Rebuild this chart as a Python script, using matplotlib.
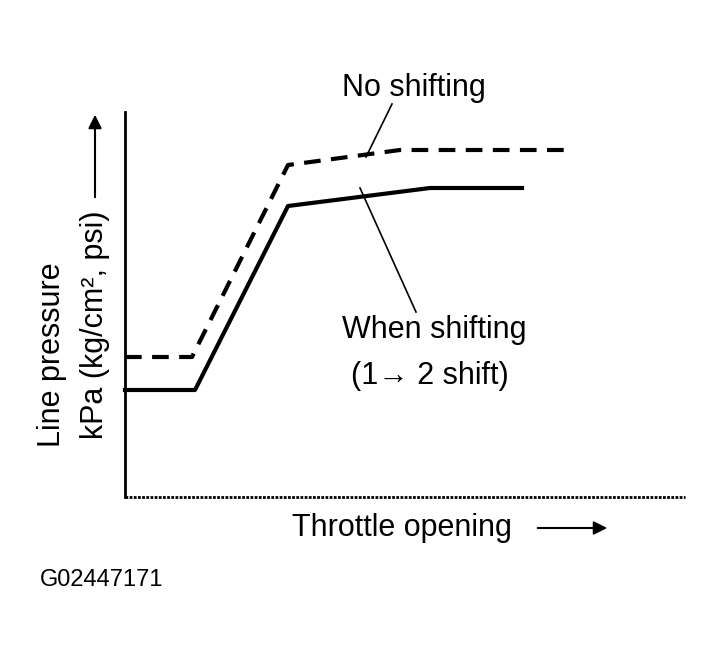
import matplotlib
matplotlib.use("Agg")
import matplotlib.pyplot as plt

# Data (in the reference's drawing units: x to the right, y downward)
solid_x = [125, 195, 288, 430, 522]
solid_y = [390, 390, 206, 188, 188]
dash_x = [125, 192, 288, 400, 565]
dash_y = [357, 357, 165, 150, 150]

plt.rcParams['font.family'] = ['Liberation Sans', 'DejaVu Sans']
fig = plt.figure(figsize=(7.24, 6.63), dpi=100)
ax = fig.add_axes([0, 0, 1, 1])
ax.set_xlim(0, 724)
ax.set_ylim(663, 0)
ax.axis('off')

# axes frame
ax.plot([125, 125], [497, 112], color='black', lw=2)
ax.plot([125, 685], [497, 497], color='black', lw=2, linestyle=(0, (1, 0.5)))
ax.annotate('', xy=(95, 112), xytext=(95, 200),
            arrowprops=dict(arrowstyle='-|>', color='black', lw=1.5, mutation_scale=20))

ax.plot(solid_x, solid_y, color='black', lw=3)
ax.plot(dash_x, dash_y, color='black', lw=3, dashes=(4, 2.5))

fs = 22
ax.text(414, 88, 'No shifting', fontsize=fs, ha='center', va='center')
ax.plot([366, 392], [157, 104], color='black', lw=1.2)
ax.text(434, 330, 'When shifting', fontsize=fs, ha='center', va='center')
ax.text(430, 376, '(1\u2192 2 shift)', fontsize=fs, ha='center', va='center',
        family=['Liberation Sans', 'DejaVu Sans'])
ax.plot([360, 416], [188, 312], color='black', lw=1.2)

ax.text(52, 355, 'Line pressure', fontsize=fs, rotation=90, ha='center', va='center')
ax.text(95, 325, 'kPa (kg/cm\u00b2, psi)', fontsize=fs, rotation=90,
        ha='center', va='center')
ax.text(402, 528, 'Throttle opening', fontsize=fs, ha='center', va='center')
ax.annotate('', xy=(610, 528), xytext=(535, 528),
            arrowprops=dict(arrowstyle='-|>', color='black', lw=1.5, mutation_scale=20))
ax.text(40, 580, 'G02447171', fontsize=17, ha='left', va='center')

fig.savefig('out.png', dpi=100)
